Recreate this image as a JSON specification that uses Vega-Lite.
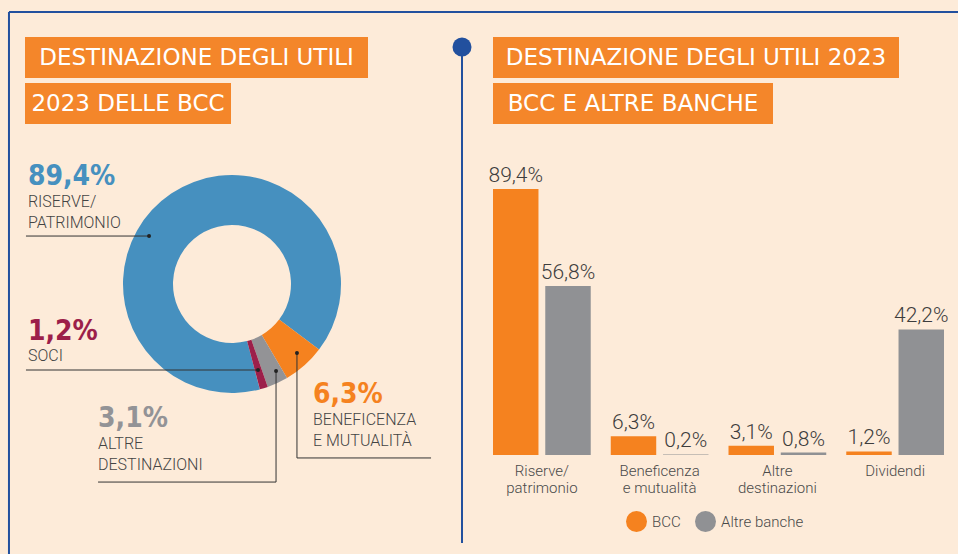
{
  "$schema": "https://vega.github.io/schema/vega-lite/v6.json",
  "background": "#fdebd9",
  "padding": {"left": 7, "top": 11, "right": 0, "bottom": 0},
  "autosize": {"type": "pad"},
  "bounds": "flush",
  "columns": 2,
  "spacing": {"row": 5, "column": 54},
  "config": {
    "view": {"stroke": null},
    "font": "Roboto",
    "locale": {"number": {"decimal": ",", "thousands": ".", "grouping": [3], "currency": ["", " €"]}}
  },
  "datasets": {
    "donut": [
      {"key": "Riserve/patrimonio", "value": 0.894},
      {"key": "Beneficenza e mutualità", "value": 0.063},
      {"key": "Altre destinazioni", "value": 0.031},
      {"key": "Soci", "value": 0.012}
    ],
    "callouts": [
      {"key": "Riserve/patrimonio", "x": -1.872, "py": 0.908, "ly": 0.706, "l1": "RISERVE/", "l2": "PATRIMONIO"},
      {"key": "Soci", "x": -1.872, "py": -0.514, "ly": -0.706, "l1": "SOCI", "l2": ""},
      {"key": "Altre destinazioni", "x": -1.229, "py": -1.312, "ly": -1.514, "l1": "ALTRE", "l2": "DESTINAZIONI"},
      {"key": "Beneficenza e mutualità", "x": 0.743, "py": -1.092, "ly": -1.294, "l1": "BENEFICENZA", "l2": "E MUTUALITÀ"}
    ],
    "leaders": [
      {"x": -1.890, "y": 0.440, "x2": -0.761, "y2": 0.440},
      {"x": -1.890, "y": -0.789, "x2": 0.239, "y2": -0.789},
      {"x": -1.229, "y": -1.817, "x2": 0.404, "y2": -1.817},
      {"x": 0.404, "y": -1.817, "x2": 0.404, "y2": -0.798},
      {"x": 0.596, "y": -0.633, "x2": 0.596, "y2": -1.596},
      {"x": 0.596, "y": -1.596, "x2": 1.826, "y2": -1.596}
    ],
    "anchors": [
      {"x": -0.761, "y": 0.440},
      {"x": 0.239, "y": -0.789},
      {"x": 0.404, "y": -0.798},
      {"x": 0.596, "y": -0.633}
    ],
    "frame": [
      {"x": -2.046, "y": 2.495, "x2": 6.7, "y2": 2.495},
      {"x": -2.046, "y": 2.495, "x2": -2.046, "y2": -2.6},
      {"x": 2.110, "y": 2.174, "x2": 2.110, "y2": -2.376}
    ],
    "pin": [{"x": 2.110, "y": 2.174}],
    "bars": [
      {"cat": "Riserve/patrimonio", "group": "BCC", "value": 0.894},
      {"cat": "Riserve/patrimonio", "group": "Altre banche", "value": 0.568},
      {"cat": "Beneficenza e mutualità", "group": "BCC", "value": 0.063},
      {"cat": "Beneficenza e mutualità", "group": "Altre banche", "value": 0.002},
      {"cat": "Altre destinazioni", "group": "BCC", "value": 0.031},
      {"cat": "Altre destinazioni", "group": "Altre banche", "value": 0.008},
      {"cat": "Dividendi", "group": "BCC", "value": 0.012},
      {"cat": "Dividendi", "group": "Altre banche", "value": 0.422}
    ]
  },
  "concat": [
    {
      "width": 343, "height": 41,
      "view": {"fill": "#f4862a", "stroke": null},
      "data": {"values": [{"t": "DESTINAZIONE DEGLI UTILI"}]},
      "mark": {"type": "text", "color": "white", "font": "DejaVu Sans", "fontSize": 23, "align": "center", "baseline": "middle"},
      "encoding": {"text": {"field": "t"}}
    },
    {
      "width": 406, "height": 41,
      "view": {"fill": "#f4862a", "stroke": null},
      "data": {"values": [{"t": "DESTINAZIONE DEGLI UTILI 2023"}]},
      "mark": {"type": "text", "color": "white", "font": "DejaVu Sans", "fontSize": 23, "align": "center", "baseline": "middle"},
      "encoding": {"text": {"field": "t"}}
    },
    {
      "width": 206, "height": 41,
      "view": {"fill": "#f4862a", "stroke": null},
      "data": {"values": [{"t": "2023 DELLE BCC"}]},
      "mark": {"type": "text", "color": "white", "font": "DejaVu Sans", "fontSize": 23, "align": "center", "baseline": "middle"},
      "encoding": {"text": {"field": "t"}}
    },
    {
      "width": 280, "height": 41,
      "view": {"fill": "#f4862a", "stroke": null},
      "data": {"values": [{"t": "BCC E ALTRE BANCHE"}]},
      "mark": {"type": "text", "color": "white", "font": "DejaVu Sans", "fontSize": 23, "align": "center", "baseline": "middle"},
      "encoding": {"text": {"field": "t"}}
    },
    {
      "width": 414, "height": 310,
      "layer": [
        {
          "data": {"name": "frame"},
          "mark": {"type": "rule", "color": "#22509e", "strokeWidth": 2},
          "encoding": {
            "x": {"field": "x", "type": "quantitative", "scale": {"domain": [-1.899, 1.899], "nice": false, "zero": false}, "axis": null},
            "y": {"field": "y", "type": "quantitative", "scale": {"domain": [-1.422, 1.422], "nice": false, "zero": false}, "axis": null},
            "x2": {"field": "x2"},
            "y2": {"field": "y2"}
          }
        },
        {
          "data": {"name": "pin"},
          "mark": {"type": "point", "filled": true, "color": "#22509e", "size": 361, "opacity": 1},
          "encoding": {
            "x": {"field": "x", "type": "quantitative"},
            "y": {"field": "y", "type": "quantitative"}
          }
        },
        {
          "data": {"name": "donut"},
          "mark": {"type": "arc", "innerRadius": 59, "outerRadius": 109},
          "encoding": {
            "theta": {"field": "value", "type": "quantitative", "stack": true, "scale": {"range": [2.883, 9.166]}},
            "order": {"field": "value", "type": "quantitative", "sort": "descending"},
            "color": {"field": "key", "type": "nominal", "scale": {"domain": ["Riserve/patrimonio", "Beneficenza e mutualità", "Altre destinazioni", "Soci"], "range": ["#4690bf", "#f5821f", "#939396", "#9c1f4a"]}, "legend": null}
          }
        },
        {
          "data": {"name": "leaders"},
          "mark": {"type": "rule", "color": "#333333", "strokeWidth": 1},
          "encoding": {
            "x": {"field": "x", "type": "quantitative"},
            "y": {"field": "y", "type": "quantitative"},
            "x2": {"field": "x2"},
            "y2": {"field": "y2"}
          }
        },
        {
          "data": {"name": "anchors"},
          "mark": {"type": "point", "filled": true, "color": "#222222", "size": 16, "opacity": 1},
          "encoding": {
            "x": {"field": "x", "type": "quantitative"},
            "y": {"field": "y", "type": "quantitative"}
          }
        },
        {
          "data": {"name": "callouts"},
          "transform": [{"lookup": "key", "from": {"data": {"name": "donut"}, "key": "key", "fields": ["value"]}}],
          "mark": {"type": "text", "align": "left", "baseline": "alphabetic", "font": "DejaVu Sans Condensed", "fontWeight": "bold", "fontSize": 28},
          "encoding": {
            "x": {"field": "x", "type": "quantitative"},
            "y": {"field": "py", "type": "quantitative"},
            "text": {"field": "value", "type": "quantitative", "format": ".1%"},
            "color": {"field": "key", "type": "nominal", "legend": null}
          }
        },
        {
          "data": {"name": "callouts"},
          "mark": {"type": "text", "align": "left", "baseline": "alphabetic", "font": "Roboto", "fontWeight": 300, "fontSize": 16, "color": "#444444"},
          "encoding": {
            "x": {"field": "x", "type": "quantitative"},
            "y": {"field": "ly", "type": "quantitative"},
            "text": {"field": "l1"}
          }
        },
        {
          "data": {"name": "callouts"},
          "mark": {"type": "text", "align": "left", "baseline": "alphabetic", "font": "Roboto", "fontWeight": 300, "fontSize": 16, "color": "#444444", "dy": 20.5},
          "encoding": {
            "x": {"field": "x", "type": "quantitative"},
            "y": {"field": "ly", "type": "quantitative"},
            "text": {"field": "l2"}
          }
        }
      ]
    },
    {
      "width": 451, "height": 326,
      "data": {"name": "bars"},
      "encoding": {
        "x": {
          "field": "cat", "type": "nominal", "title": null,
          "sort": ["Riserve/patrimonio", "Beneficenza e mutualità", "Altre destinazioni", "Dividendi"],
          "scale": {"paddingInner": 0.17, "paddingOuter": 0},
          "axis": {
            "domain": false, "ticks": false, "grid": false, "labelAngle": 0,
            "labelFont": "Roboto", "labelFontSize": 15, "labelFontWeight": 300, "labelColor": "#4a4a4a",
            "labelPadding": 8, "labelLineHeight": 17, "labelBaseline": "top", "labelOverlap": false,
            "labelExpr": "datum.value == 'Riserve/patrimonio' ? ['Riserve/', 'patrimonio'] : datum.value == 'Beneficenza e mutualità' ? ['Beneficenza', 'e mutualità'] : datum.value == 'Altre destinazioni' ? ['Altre', 'destinazioni'] : datum.value"
          }
        },
        "xOffset": {"field": "group", "type": "nominal", "sort": ["BCC", "Altre banche"], "scale": {"paddingInner": 0.13, "paddingOuter": 0}},
        "y": {"field": "value", "type": "quantitative", "scale": {"domain": [0, 1.0958], "nice": false, "zero": true}, "axis": null}
      },
      "layer": [
        {
          "mark": {"type": "bar"},
          "encoding": {
            "color": {
              "field": "group", "type": "nominal", "sort": ["BCC", "Altre banche"],
              "scale": {"domain": ["BCC", "Altre banche"], "range": ["#f5821f", "#909194"]},
              "legend": {
                "title": null, "orient": "none", "legendX": 133, "legendY": 382, "direction": "horizontal",
                "symbolType": "circle", "symbolSize": 441, "symbolStrokeWidth": 0, "symbolOpacity": 1,
                "labelFont": "Roboto", "labelFontSize": 15, "labelFontWeight": 300, "labelColor": "#4a4a4a",
                "columnPadding": 14, "labelOffset": 5
              }
            }
          }
        },
        {
          "mark": {"type": "text", "dy": -7, "baseline": "alphabetic", "align": "center", "font": "Roboto", "fontSize": 21, "fontWeight": 300, "color": "#3d3d3d"},
          "encoding": {
            "text": {"field": "value", "type": "quantitative", "format": ".1%"}
          }
        }
      ]
    }
  ],
  "resolve": {"scale": {"color": "independent", "x": "independent", "y": "independent"}, "legend": {"color": "independent"}}
}
